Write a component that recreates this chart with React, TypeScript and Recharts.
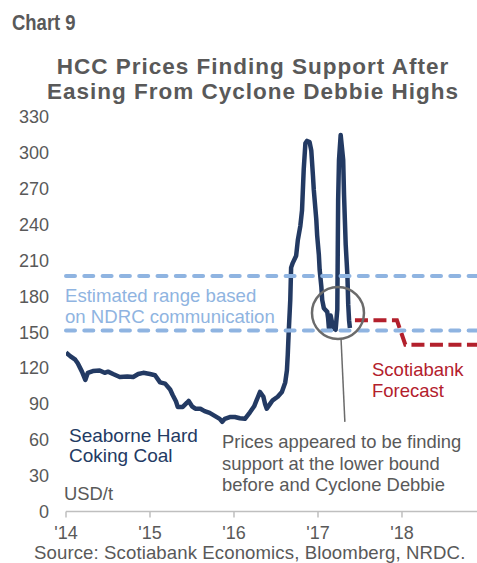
import { LineChart, Line, XAxis, YAxis, ReferenceLine, ReferenceDot } from 'recharts';

// x values are fractional years
const yearTicks = [2014, 2015, 2016, 2017, 2018];
const priceTicks = [0, 30, 60, 90, 120, 150, 180, 210, 240, 270, 300, 330];

const hccDates = [
  2014.0, 2014.05, 2014.11, 2014.14, 2014.19, 2014.23, 2014.26, 2014.32, 2014.4, 2014.46,
  2014.5, 2014.56, 2014.64, 2014.73, 2014.8, 2014.86, 2014.92, 2015.0, 2015.06, 2015.12,
  2015.18, 2015.24, 2015.27, 2015.31, 2015.33, 2015.39, 2015.44, 2015.46, 2015.5, 2015.54,
  2015.6, 2015.65, 2015.71, 2015.77, 2015.83, 2015.86, 2015.89, 2015.95, 2016.01, 2016.07,
  2016.13, 2016.19, 2016.24, 2016.26, 2016.31, 2016.35, 2016.37, 2016.39, 2016.43, 2016.46,
  2016.52, 2016.57, 2016.61, 2016.63, 2016.64, 2016.65, 2016.67, 2016.68, 2016.7, 2016.74,
  2016.76, 2016.79, 2016.81, 2016.82, 2016.83, 2016.85, 2016.87, 2016.9, 2016.92, 2016.94,
  2016.95, 2016.98, 2016.99, 2017.01, 2017.02, 2017.04, 2017.05, 2017.07, 2017.11, 2017.12,
  2017.13, 2017.14, 2017.15, 2017.18, 2017.2, 2017.21, 2017.23, 2017.24, 2017.25, 2017.27,
  2017.3, 2017.31, 2017.32, 2017.33, 2017.35, 2017.36, 2017.37, 2017.38,
];
const hccPrices = [
  133, 130, 127, 124, 117, 110, 116, 117.5, 118, 116,
  117, 115, 112.5, 113, 112.5, 115, 116, 115, 114, 108,
  107, 102, 97.5, 92, 87.5, 87.5, 91, 92.5, 88, 86,
  86, 84, 82.5, 80, 77.5, 75, 77.5, 79, 79, 78,
  77.5, 83, 88, 91.5, 100, 96, 90, 86, 90, 93,
  96, 100, 108, 118, 131, 148, 177, 204, 208, 214,
  227, 239, 252, 269, 286, 308, 310, 309, 302, 281,
  269, 244, 231, 215, 202, 188, 177, 170, 167, 162,
  153.5, 160, 164, 154, 152.5, 152, 169, 261, 294, 315,
  294, 265, 244, 223, 198, 173, 160, 153.5,
];

const forecastDates = [2017.44, 2017.94, 2018.04, 2018.9];
const forecastPrices = [160, 160, 139.5, 139.5];

const ndrcRange = [151.5, 197];

const hccData = hccDates.map((date, i) => ({ date, hcc: hccPrices[i] }));
const forecastData = forecastDates.map((date, i) => ({ date, forecast: forecastPrices[i] }));

const FONT = "'Liberation Sans', Arial, sans-serif";
const GREY = '#595959';
const NAVY = '#233a63';
const LIGHT_BLUE = '#8fb4e1';
const RED = '#b3202c';

export default function App() {
  return (
    <div style={{ position: 'absolute', left: 0, top: 0, width: 477, height: 563, background: '#fff', fontFamily: FONT }}>
      <LineChart width={477} height={563} data={hccData} margin={{ top: 117, right: 0, bottom: 0, left: 0 }}>
        <XAxis
          dataKey="date"
          type="number"
          domain={[2014, 2018.893]}
          ticks={yearTicks}
          tickFormatter={(v) => `'${String(v).slice(2)}`}
          tick={{ fill: GREY, fontSize: 18, fontFamily: FONT }}
          axisLine={{ stroke: '#bfbfbf', strokeWidth: 1.5 }}
          tickLine={{ stroke: '#bfbfbf', strokeWidth: 1.5 }}
          tickSize={6}
          tickMargin={9}
          height={51.5}
          allowDataOverflow
        />
        <YAxis
          domain={[0, 330]}
          ticks={priceTicks}
          width={66}
          tick={{ fill: GREY, fontSize: 18, fontFamily: FONT }}
          axisLine={false}
          tickLine={false}
          tickSize={6}
          tickMargin={11}
        />
        <Line
          dataKey="hcc"
          type="linear"
          stroke={NAVY}
          strokeWidth={4.5}
          strokeLinejoin="round"
          dot={false}
          isAnimationActive={false}
        />
        <Line
          data={forecastData}
          dataKey="forecast"
          type="linear"
          stroke={RED}
          strokeWidth={4}
          strokeDasharray="13 5.5"
          dot={false}
          isAnimationActive={false}
        />
        {ndrcRange.map((v) => (
          <ReferenceLine
            key={v}
            y={v}
            stroke={LIGHT_BLUE}
            strokeWidth={4}
            strokeDasharray="9 9.3"
            strokeLinecap="round"
          />
        ))}
        <ReferenceDot x={2017.238} y={166} r={26} fill="none" stroke="#6b6b6b" strokeWidth={2.5} />
        <ReferenceLine
          segment={[{ x: 2017.274, y: 145 }, { x: 2017.32, y: 75 }]}
          stroke="#6b6b6b"
          strokeWidth={1.5}
        />
      </LineChart>

      <svg width={477} height={563} style={{ position: 'absolute', left: 0, top: 0, pointerEvents: 'none' }}>
        <text transform="translate(12,30) scale(0.84,1)" fontSize={22} fontWeight="bold" fill={GREY}
          fontFamily="'Liberation Sans Narrow', 'Arial Narrow', 'Liberation Sans', sans-serif">Chart 9</text>
        <g fontSize={22.5} fontWeight="bold" fill={GREY} textAnchor="middle" letterSpacing={1}>
          <text x={253} y={74}>HCC Prices Finding Support After</text>
          <text x={253} y={99}>Easing From Cyclone  Debbie Highs</text>
        </g>
        <g fontSize={18.6} fill={LIGHT_BLUE}>
          <text x={65} y={302}>Estimated range based</text>
          <text x={65} y={323}>on NDRC communication</text>
        </g>
        <g fontSize={19} fill={NAVY}>
          <text x={69} y={442}>Seaborne Hard</text>
          <text x={69} y={462}>Coking Coal</text>
        </g>
        <g fontSize={18.5} fill={RED}>
          <text x={372} y={376}>Scotiabank</text>
          <text x={372} y={397}>Forecast</text>
        </g>
        <g fontSize={18.4} fill={GREY}>
          <text x={222} y={448}>Prices appeared to be finding</text>
          <text x={222} y={470}>support at the lower bound</text>
          <text x={222} y={491}>before and Cyclone Debbie</text>
          <text x={64} y={500}>USD/t</text>
          <text x={34} y={559} fontSize={18.6} letterSpacing={0.1}>Source: Scotiabank Economics, Bloomberg, NRDC.</text>
        </g>
      </svg>
    </div>
  );
}
